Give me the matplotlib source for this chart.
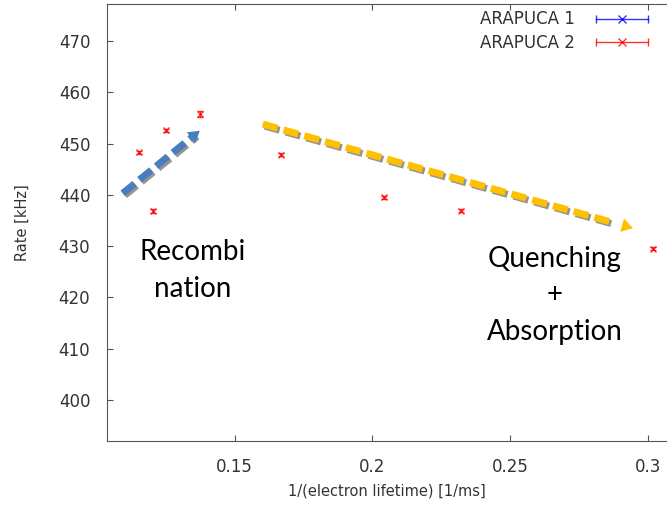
import matplotlib
matplotlib.use("Agg")
import matplotlib.pyplot as plt
import matplotlib.patheffects as pe
from matplotlib.lines import Line2D
from matplotlib.legend_handler import HandlerLine2D, HandlerTuple

# data
x_arapuca2 = [0.1152, 0.1203, 0.1252, 0.1373, 0.1667, 0.2041, 0.2322, 0.3020]
y_arapuca2 = [448.3, 436.9, 452.6, 455.7, 447.8, 439.5, 436.9, 429.5]
yerr_arapuca2 = [0.3, 0.4, 0.3, 0.6, 0.3, 0.3, 0.3, 0.3]
x_arapuca1 = []
y_arapuca1 = []

xticks = [0.15, 0.2, 0.25, 0.3]
xtick_labels = ["0.15", "0.2", "0.25", "0.3"]
yticks = [400, 410, 420, 430, 440, 450, 460, 470]

# annotation arrows (start, end) in data units
arrow_recomb = [(0.1093, 440.3), (0.1373, 452.5)]
arrow_quench = [(0.1602, 453.8), (0.2946, 433.5)]

fig = plt.figure(figsize=(6.67, 5.08), dpi=100)
ax = fig.add_axes([0.1604, 0.1319, 0.8396, 0.8601])

ax.errorbar(x_arapuca1, y_arapuca1, color="#0000ff", marker="x", ms=5, lw=1)
ax.errorbar(x_arapuca2, y_arapuca2, yerr=yerr_arapuca2, color="#ff0000", marker="x",
            ms=5, mew=1, lw=0, elinewidth=1, capsize=2.5, alpha=0.8)

ax.set_xlim(0.1036, 0.307)
ax.set_ylim(392.0, 477.2)
ax.set_xticks(xticks)
ax.set_xticklabels(xtick_labels)
ax.set_yticks(yticks)
ax.tick_params(direction="in", length=4, color="#555555", labelcolor="#333333",
               labelsize=12, top=True, pad=12)
for s in ["left", "bottom", "top"]:
    ax.spines[s].set_color("#555555")
ax.spines["right"].set_visible(False)

ax.set_xlabel("1/(electron lifetime) [1/ms]", fontsize=10.5, color="#333333", labelpad=6)
ax.set_ylabel("Rate [kHz]", fontsize=10.5, color="#333333", labelpad=21)

# gnuplot-like legend keys: horizontal bar with end caps and a cross in the middle
handles = []
hmap = {}
for c in ["#0000ff", "#ff0000"]:
    bar = Line2D([], [], color=c, lw=1, marker="|", ms=6, mew=1, alpha=0.8)
    cross = Line2D([], [], color=c, lw=0, marker="x", ms=6, mew=1, alpha=0.8)
    hmap[bar] = HandlerLine2D(numpoints=2)
    hmap[cross] = HandlerLine2D(numpoints=1)
    handles.append((bar, cross))
hmap[tuple] = HandlerTuple(ndivide=1, pad=0)

leg = ax.legend(handles, ["ARAPUCA 1", "ARAPUCA 2"], handler_map=hmap,
                loc="upper right", bbox_to_anchor=(0.996, 1.012), frameon=False,
                markerfirst=False, fontsize=12, handlelength=3.7, handletextpad=1.0,
                labelspacing=0.35, borderaxespad=0.3)
for t in leg.get_texts():
    t.set_color("#333333")


def dashed_arrow(p0, p1, color):
    shadow = [pe.SimpleLineShadow(offset=(1.5, -1.5), shadow_color="#888888", alpha=0.9),
              pe.Normal()]
    f = 0.94
    mid = (p0[0] + f * (p1[0] - p0[0]), p0[1] + f * (p1[1] - p0[1]))
    ax.plot([p0[0], mid[0]], [p0[1], mid[1]], color=color, lw=5,
            dashes=(2.2, 0.9), solid_capstyle="butt", path_effects=shadow, zorder=3)
    ax.annotate("", xy=p1, xytext=mid,
                arrowprops=dict(arrowstyle="-|>,head_length=0.8,head_width=0.5",
                                color=color, lw=0, shrinkA=0, shrinkB=0), zorder=3)


dashed_arrow(arrow_recomb[0], arrow_recomb[1], "#4a7ebb")
dashed_arrow(arrow_quench[0], arrow_quench[1], "#ffc000")

ax.text(0.1346, 425.2, "Recombi\nnation", fontsize=20, family="Lato",
        ha="center", va="center", linespacing=1.5, color="black")
ax.text(0.2663, 420.4, "Quenching\n+\nAbsorption", fontsize=20, family="Lato",
        ha="center", va="center", linespacing=1.5, color="black")

fig.savefig("out.png", dpi=100)
